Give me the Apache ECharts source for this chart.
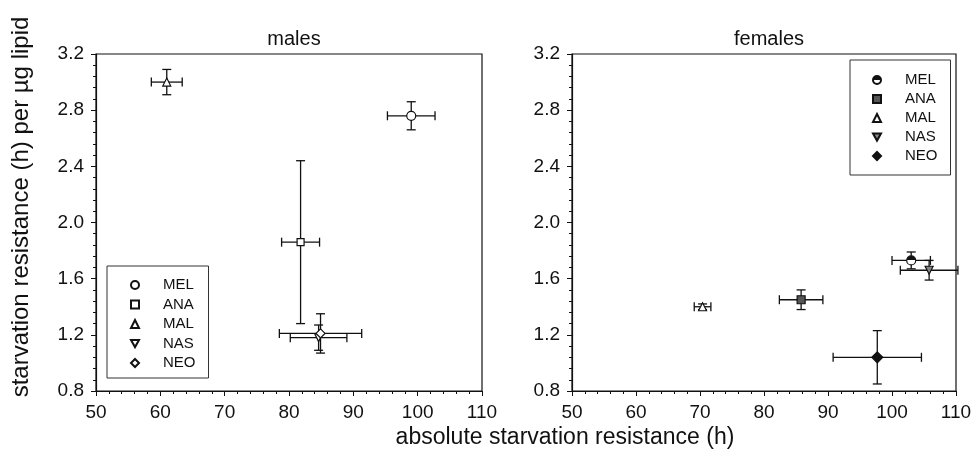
<!DOCTYPE html>
<html><head><meta charset="utf-8">
<script src="https://cdn.jsdelivr.net/npm/echarts@6/dist/echarts.min.js"></script>
<style>html,body{margin:0;padding:0;background:#fff}#c{width:975px;height:460px}</style>
</head><body><div id="c"></div>
<script>
const groups = ['MEL', 'ANA', 'MAL', 'NAS', 'NEO'];
const xTicks = [50, 60, 70, 80, 90, 100, 110];
const yTicks = [0.8, 1.2, 1.6, 2.0, 2.4, 2.8, 3.2];
// [absolute resistance (h), resistance per ug lipid, x error, y error]
const malesMEL = [99.0, 2.76, 3.7, 0.10];
const malesANA = [81.8, 1.86, 2.95, 0.58];
const malesMAL = [61.0, 3.00, 2.4, 0.09];
const malesNAS = [84.6, 1.18, 4.4, 0.09];
const malesNEO = [84.9, 1.21, 6.4, 0.14];
const femalesMEL = [103.0, 1.73, 3.0, 0.06];
const femalesANA = [85.8, 1.45, 3.4, 0.07];
const femalesMAL = [70.4, 1.40, 1.3, 0.02];
const femalesNAS = [105.8, 1.66, 4.5, 0.07];
const femalesNEO = [97.7, 1.04, 6.9, 0.19];

const males = [malesMEL, malesANA, malesMAL, malesNAS, malesNEO];
const females = [femalesMEL, femalesANA, femalesMAL, femalesNAS, femalesNEO];

const FONT = 'Liberation Sans, Arial, sans-serif';
const symbols = ['circle', 'rect', 'triangle', 'path://M0,0 L10,0 L5,9 Z', 'diamond'];
const maleSizes = [9, 7, 8, 8, 9];
const femaleSizes = [9, 8, 8, 8, 11];
const halfFill = {type: 'linear', x: 0, y: 0, x2: 0, y2: 1, colorStops: [
  {offset: 0, color: '#111'}, {offset: 0.5, color: '#111'}, {offset: 0.5, color: '#fff'}, {offset: 1, color: '#fff'}]};
const femaleFills = [halfFill, '#555', '#fff', '#888', '#111'];

function renderErr(params, api) {
  const x = api.value(0), y = api.value(1), ex = api.value(2), ey = api.value(3);
  const l = api.coord([x - ex, y]), r = api.coord([x + ex, y]);
  const t = api.coord([x, y + ey]), b = api.coord([x, y - ey]);
  const cap = 4.5;
  const style = {stroke: '#111', lineWidth: 1.3};
  const ln = (x1, y1, x2, y2) => ({type: 'line', shape: {x1, y1, x2, y2}, style});
  return {type: 'group', children: [
    ln(l[0], l[1], r[0], r[1]),
    ln(l[0], l[1] - cap, l[0], l[1] + cap),
    ln(r[0], r[1] - cap, r[0], r[1] + cap),
    ln(t[0], t[1], b[0], b[1]),
    ln(t[0] - cap, t[1], t[0] + cap, t[1]),
    ln(b[0] - cap, b[1], b[0] + cap, b[1])
  ]};
}

function xAxisCfg(idx) {
  return {
    gridIndex: idx, type: 'value', min: 50, max: 110, interval: 10,
    axisLine: {onZero: false, lineStyle: {color: '#111', width: 1.2}},
    axisTick: {show: true, length: 5, lineStyle: {color: '#111'}},
    minorTick: {show: true, splitNumber: 5, length: 3, lineStyle: {color: '#111'}},
    splitLine: {show: false},
    axisLabel: {color: '#111', fontSize: 19, fontFamily: FONT, margin: 12,
      customValues: xTicks}
  };
}
function yAxisCfg(idx) {
  return {
    gridIndex: idx, type: 'value', min: 0.8, max: 3.2, interval: 0.4,
    axisLine: {onZero: false, lineStyle: {color: '#111', width: 1.2}},
    axisTick: {show: true, length: 5, lineStyle: {color: '#111'}},
    minorTick: {show: true, splitNumber: 5, length: 3, lineStyle: {color: '#111'}},
    splitLine: {show: false},
    axisLabel: {color: '#111', fontSize: 19, fontFamily: FONT, margin: 12,
      formatter: v => v.toFixed(1)}
  };
}

const series = [];
series.push({type: 'custom', name: 'errM', xAxisIndex: 0, yAxisIndex: 0, renderItem: renderErr,
  data: males, encode: {x: 0, y: 1}, z: 1, silent: true});
series.push({type: 'custom', name: 'errF', xAxisIndex: 1, yAxisIndex: 1, renderItem: renderErr,
  data: females, encode: {x: 0, y: 1}, z: 1, silent: true});
groups.forEach((g, i) => {
  series.push({type: 'scatter', name: g, xAxisIndex: 0, yAxisIndex: 0, z: 3,
    symbol: symbols[i], symbolSize: maleSizes[i],
    itemStyle: {color: '#fff', borderColor: '#111', borderWidth: 1.2, opacity: 1},
    data: [[males[i][0], males[i][1]]]});
});
groups.forEach((g, i) => {
  series.push({type: 'scatter', name: g + ' (f)', xAxisIndex: 1, yAxisIndex: 1, z: 3,
    symbol: symbols[i], symbolSize: femaleSizes[i],
    itemStyle: {color: femaleFills[i], borderColor: '#111', borderWidth: 1.2, opacity: 1},
    data: [[females[i][0], females[i][1]]]});
});

const legendCommon = {
  orient: 'vertical', selectedMode: false, itemWidth: 8, itemHeight: 8, itemGap: 4.5,
  borderColor: '#333', borderWidth: 1, backgroundColor: '#fff',
  textStyle: {color: '#111', fontSize: 15, fontFamily: FONT, padding: [0, 0, 0, 19]}
};

const chart = echarts.init(document.getElementById('c'), null, {renderer: 'canvas'});
chart.setOption({
  animation: false,
  backgroundColor: '#fff',
  title: [
    {text: 'males', left: 289, top: 24, textAlign: 'center',
      textStyle: {color: '#111', fontSize: 20, fontWeight: 'normal', fontFamily: FONT}},
    {text: 'females', left: 764, top: 24, textAlign: 'center',
      textStyle: {color: '#111', fontSize: 20, fontWeight: 'normal', fontFamily: FONT}}
  ],
  grid: [
    {left: 96, top: 54, width: 386, height: 337, show: true, borderColor: '#111', borderWidth: 1.2, backgroundColor: 'transparent'},
    {left: 572, top: 54, width: 384, height: 337, show: true, borderColor: '#111', borderWidth: 1.2, backgroundColor: 'transparent'}
  ],
  xAxis: [xAxisCfg(0), xAxisCfg(1)],
  yAxis: [yAxisCfg(0), yAxisCfg(1)],
  legend: [
    Object.assign({}, legendCommon, {left: 107, top: 266, padding: [11.5, 13, 7.5, 23],
      data: groups}),
    Object.assign({}, legendCommon, {left: 850, top: 60, padding: [12.5, 13, 11.5, 22], itemGap: 4,
      data: groups.map(g => g + ' (f)'), formatter: n => n.split(' ')[0]})
  ],
  graphic: [
    {type: 'text', x: 565, y: 426, style: {text: 'absolute starvation resistance (h)',
      fill: '#111', fontSize: 23, fontFamily: FONT, textAlign: 'center', textVerticalAlign: 'top'}},
    {type: 'text', x: 21, y: 207, rotation: Math.PI / 2, style: {text: 'starvation resistance (h) per µg lipid',
      fill: '#111', fontSize: 24, fontFamily: FONT, textAlign: 'center', textVerticalAlign: 'middle'}}
  ],
  series: series
});
</script></body></html>
